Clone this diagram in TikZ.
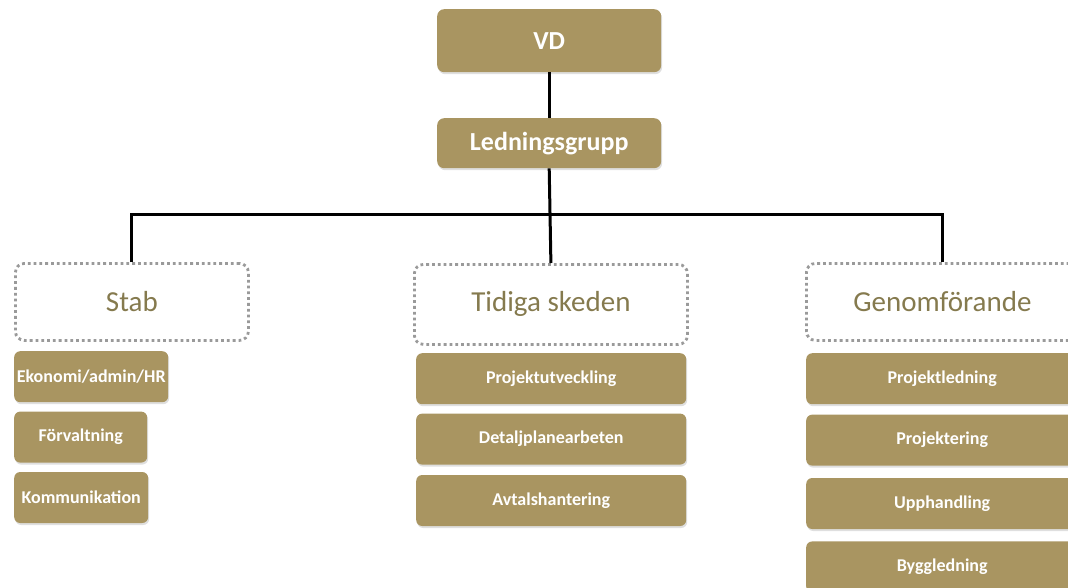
\documentclass[tikz,border=0pt]{standalone}
\usepackage{fontspec}
\setmainfont{Carlito}
\usetikzlibrary{positioning,shadows}
\definecolor{gold}{HTML}{A99561}
\definecolor{olive}{HTML}{857A4E}
\definecolor{dotgray}{HTML}{9A9A9A}
\begin{document}
\begin{tikzpicture}[x=1pt,y=-1pt,
  topbox/.style={rounded corners=7pt, fill=gold, text=white, inner sep=0pt,
    minimum width=224pt, font=\bfseries\fontsize{26}{30}\selectfont,
    drop shadow={shadow xshift=1pt, shadow yshift=-2pt, opacity=.25}},
  groupbox/.style={rounded corners=9pt, draw=dotgray, line width=2.8pt,
    dash pattern=on 2.8pt off 3pt, text=olive, inner sep=0pt, minimum height=77pt,
    font=\fontsize{29}{34}\selectfont},
  subbox/.style={rounded corners=6pt, fill=gold, text=white, inner sep=0pt,
    minimum height=51pt, font=\bfseries\fontsize{18}{21}\selectfont,
    drop shadow={shadow xshift=1pt, shadow yshift=-2pt, opacity=.25}},
  link/.style={line width=3pt, black}]
\useasboundingbox (0,0) rectangle (1068,587);
\clip (0,0) rectangle (1068,587);
% top of the chart
\node[topbox, minimum height=63pt, anchor=north west] (vd) at (437,9) {VD};
\node[topbox, minimum height=50pt, anchor=north west] (ledn) at (437,118) {Ledningsgrupp};
% the three groups
\node[groupbox, minimum width=233pt, anchor=north west] (stab) at (14,262) {Stab};
\node[groupbox, minimum width=273pt, minimum height=80pt, anchor=north west] (tidiga) at (413,263) {Tidiga skeden};
\node[groupbox, minimum width=272pt, anchor=north west] (genom) at (805,262) {Genomförande};
% Stab
\node[subbox, minimum width=154pt, anchor=north west] (eko) at (14,351) {Ekonomi/admin/HR};
\node[subbox, minimum width=133pt, below=9pt of eko.south west, anchor=north west] (forv) {Förvaltning};
\node[subbox, minimum width=134pt, below=9pt of forv.south west, anchor=north west] (komm) {Kommunikation};
% Tidiga skeden
\node[subbox, minimum width=270pt, anchor=north west] (utv) at (416,353) {Projektutveckling};
\node[subbox, minimum width=270pt, below=9pt of utv.south west, anchor=north west] (dpl) {Detaljplanearbeten};
\node[subbox, minimum width=270pt, below=10pt of dpl.south west, anchor=north west] (avt) {Avtalshantering};
% Genomförande
\node[subbox, minimum width=272pt, anchor=north west] (pled) at (806,353) {Projektledning};
\node[subbox, minimum width=272pt, below=10pt of pled.south west, anchor=north west] (proj) {Projektering};
\node[subbox, minimum width=272pt, below=12pt of proj.south west, anchor=north west] (upph) {Upphandling};
\node[subbox, minimum width=272pt, below=12pt of upph.south west, anchor=north west] (bygg) {Byggledning};
% connectors
\coordinate (bar) at (549,214);
\draw[link] (vd.south) -- (ledn.north);
\draw[link] (ledn.south) -- (tidiga.north);
\draw[link] (stab.north) |- (bar) -| (genom.north);
\end{tikzpicture}
\end{document}
